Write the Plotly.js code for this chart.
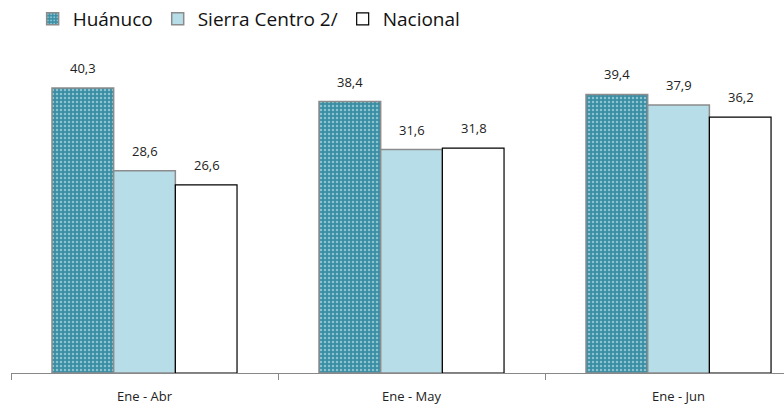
<!DOCTYPE html>
<html>
<head>
<meta charset="utf-8">
<script src="https://cdn.plot.ly/plotly-3.0.1.min.js"></script>
<style>body{margin:0;background:#fff}#chart{width:784px;height:407px}</style>
</head>
<body>
<div id="chart"></div>
<script>
var periods = ['Ene - Abr', 'Ene - May', 'Ene - Jun'];
var huanuco = [40.3, 38.4, 39.4];
var sierraCentro = [28.6, 31.6, 37.9];
var nacional = [26.6, 31.8, 36.2];

var labelFont = { family: 'Open Sans, Liberation Sans, sans-serif', size: 13, color: '#222' };

var traceHua = {
    x: periods, y: huanuco, name: 'Huánuco', type: 'bar',
    marker: { color: '#3a8ea4', line: { color: '#8c8c8c', width: 1.5 },
              pattern: { shape: '.', fgcolor: '#8cc3d2', bgcolor: '#3a8ea4', size: 4, solidity: 0.3 } }
};
var traceSierra = {
    x: periods, y: sierraCentro, name: 'Sierra Centro 2/', type: 'bar',
    marker: { color: '#b7dde8', line: { color: '#8c8c8c', width: 1.5 } }
};
var traceNac = {
    x: periods, y: nacional, name: 'Nacional', type: 'bar',
    marker: { color: '#ffffff', line: { color: '#000000', width: 1.2 } }
};

// value labels sit a little above each bar, like the original
var series = [huanuco, sierraCentro, nacional];
var shifts = [-62, 0, 62];
var annotations = [];
series.forEach(function (vals, s) {
    vals.forEach(function (v, i) {
        annotations.push({
            x: periods[i], y: v, xref: 'x', yref: 'y',
            text: v.toFixed(1).replace('.', ','),
            showarrow: false, xshift: shifts[s], yshift: 9,
            yanchor: 'bottom', font: labelFont
        });
    });
});

var layout = {
    width: 784, height: 407,
    barmode: 'group',
    bargap: 0.307, bargroupgap: 0,
    margin: { t: 60, b: 34, l: 11, r: 0 },
    paper_bgcolor: '#fff', plot_bgcolor: '#fff',
    font: { family: 'Open Sans, Liberation Sans, sans-serif', color: '#222' },
    showlegend: true,
    legend: { orientation: 'h', x: 0.028, y: 1, xanchor: 'left', yanchor: 'top',
              yref: 'container', font: { size: 19, color: '#111' }, traceorder: 'normal',
              itemwidth: 30 },
    annotations: annotations,
    xaxis: { range: [-0.5, 2.395], showline: true, linecolor: '#888', linewidth: 1,
             tickson: 'boundaries', ticks: 'outside', ticklen: 6, tickcolor: '#888',
             ticklabelstandoff: 11,
             tickfont: { size: 13, color: '#222' }, fixedrange: true },
    yaxis: { range: [0, 44.27], visible: false, showgrid: false, zeroline: false }
};

Plotly.newPlot('chart', [traceHua, traceSierra, traceNac], layout, { displayModeBar: false, staticPlot: true });
</script>
</body>
</html>
